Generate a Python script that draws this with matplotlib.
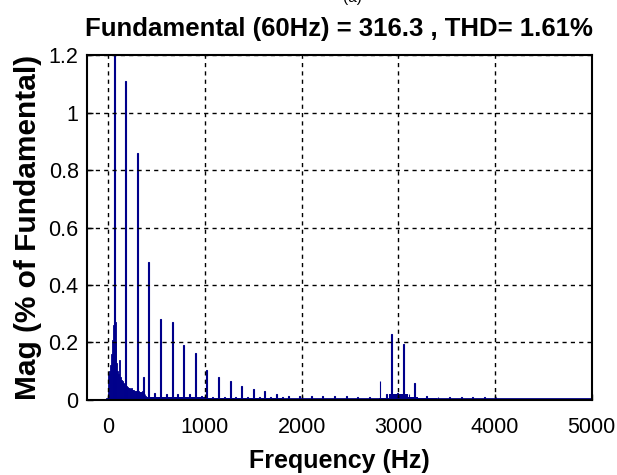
import numpy as np
import matplotlib.pyplot as plt

plt.rcParams['font.family'] = ['Liberation Sans', 'DejaVu Sans']

# low-frequency cluster (dense bins around the fundamental)
low_freq = [0, 10, 20, 30, 40, 50, 70, 80, 90, 100, 110, 120, 130, 140, 150,
            160, 170, 190, 200, 210, 220, 230, 240, 250, 260, 270, 280, 290,
            310, 320, 330, 340, 350, 360, 380, 390, 400, 410]
low_mag = [0.09, 0.10, 0.12, 0.16, 0.21, 0.26, 0.27, 0.20, 0.13, 0.10, 0.09,
           0.14, 0.08, 0.07, 0.065, 0.06, 0.055, 0.05, 0.045, 0.042, 0.04,
           0.038, 0.04, 0.035, 0.033, 0.032, 0.03, 0.03, 0.03, 0.028, 0.027,
           0.026, 0.03, 0.03, 0.02, 0.015, 0.012, 0.01]

# harmonic lines
harm_freq = [60, 180, 300, 366, 420, 480, 540, 600, 660, 720, 780, 840, 900,
             960, 1020, 1080, 1140, 1200, 1260, 1320, 1380, 1440, 1500, 1560,
             1620, 1680, 1740, 1800, 1860, 1980, 2100, 2220, 2340, 2460, 2580,
             2700, 2810, 2880, 2930, 2990, 3050, 3110, 3170, 3290, 3410, 3530,
             3650, 3770, 3890, 4010]
harm_mag = [100, 1.11, 0.86, 0.08, 0.48, 0.025, 0.28, 0.02, 0.27, 0.02, 0.19,
            0.02, 0.165, 0.015, 0.103, 0.012, 0.079, 0.012, 0.066, 0.012,
            0.049, 0.012, 0.037, 0.012, 0.031, 0.01, 0.021, 0.01, 0.014, 0.013,
            0.014, 0.014, 0.013, 0.014, 0.012, 0.012, 0.067, 0.02, 0.228, 0.025,
            0.194, 0.02, 0.06, 0.013, 0.012, 0.012, 0.012, 0.012, 0.012, 0.012]

# noise floor per band
floor_start = [400, 500, 600, 700, 800, 900, 1000, 1100, 1200, 1300, 1400,
               1500, 1600, 1700, 1800, 1900, 2000, 2200, 2400, 2600, 2800,
               2900, 3000, 3100, 3200, 3400, 3600, 3800, 4000]
floor_mag = [0.012, 0.012, 0.01, 0.01, 0.009, 0.009, 0.008, 0.008, 0.007,
             0.007, 0.007, 0.006, 0.006, 0.006, 0.005, 0.005, 0.005, 0.005,
             0.005, 0.005, 0.008, 0.02, 0.02, 0.01, 0.006, 0.005, 0.005, 0.005,
             0.004]
floor_width = [100] * 16 + [200, 200, 200, 200, 100, 100, 100, 100, 200, 200,
                            200, 200, 200]

xticks = [0, 1000, 2000, 3000, 4000, 5000]
yticks = [0, 0.2, 0.4, 0.6, 0.8, 1, 1.2]
ytick_labels = ['0', '0.2', '0.4', '0.6', '0.8', '1', '1.2']

blue = '#00008B'

fig = plt.figure(figsize=(6.17, 4.75), dpi=100)
ax = fig.add_axes([0.141, 0.158, 0.818, 0.726])

ax.bar(floor_start, floor_mag, width=floor_width, align='edge', color=blue, linewidth=0)
ax.bar(low_freq, low_mag, width=10, color=blue, edgecolor=blue, linewidth=0.6)
ax.bar(harm_freq, harm_mag, width=9, color=blue, edgecolor=blue, linewidth=0.8)
ax.axhline(0.003, xmin=0.04, xmax=1, color=blue, lw=2)

ax.set_xlim(-220, 5000)
ax.set_ylim(0, 1.2)
ax.set_xticks(xticks)
ax.set_yticks(yticks)
ax.set_yticklabels(ytick_labels)
ax.grid(True, color='black', linestyle=(0, (3, 3)), linewidth=1)
ax.tick_params(direction='in', length=4, labelsize=15.5, width=1)
ax.tick_params(axis='x', pad=12)
ax.tick_params(axis='y', pad=6)
for s in ax.spines.values():
    s.set_linewidth(1.5)

ax.set_title('Fundamental (60Hz) = 316.3 , THD= 1.61%', fontsize=18.5,
             fontweight='bold', pad=14)
ax.set_xlabel('Frequency (Hz)', fontsize=18, fontweight='bold', labelpad=8)
ax.set_ylabel('Mag (% of Fundamental)', fontsize=21.5, fontweight='bold', labelpad=5)
fig.text(0.572, 1.005, '(a)', fontsize=11, ha='center', va='center')

fig.savefig('out.png', dpi=100)
